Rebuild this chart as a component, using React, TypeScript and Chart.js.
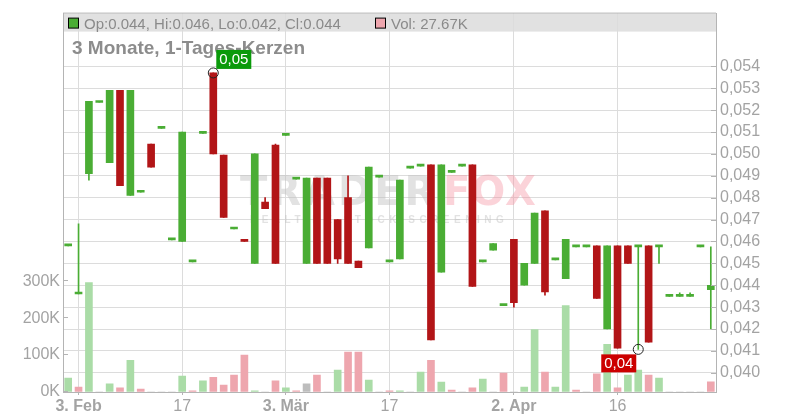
import React, { useEffect, useRef } from 'react';
import { Chart, registerables } from 'chart.js';

Chart.register(...registerables);

// ---- data (daily candles, index 0 = 31 Jan) ----
const openP = [
  0.0458, 0.0436, 0.0491, 0.05235, 0.0496, 0.0529, 0.0481, 0.04825, 0.05045, 0.05117,
  0.04607, 0.0460, 0.04507, 0.05094, 0.0537, 0.04995, 0.04657, 0.0461, 0.0450, 0.0478,
  0.0504, 0.05085, 0.04885, 0.0450, 0.0489, 0.0489, 0.0470, 0.0480, 0.0451, 0.0457,
  0.04894, 0.04507, 0.0452, 0.04935, 0.04944, 0.0495, 0.0446, 0.04916, 0.04944, 0.0495,
  0.04507, 0.0456, 0.04307, 0.0461, 0.0440, 0.0450, 0.0474, 0.04516, 0.0443, 0.04575,
  0.04575, 0.0458, 0.0420, 0.0458, 0.0458, 0.04575, 0.0458, 0.04575, 0.04349, 0.04349,
  0.04349, 0.04575, 0.0438,
];
const highP = [
  0.0458, 0.0468, 0.0524, 0.05235, 0.0529, 0.0529, 0.0529, 0.04825, 0.05045, 0.05117,
  0.04607, 0.0510, 0.04507, 0.05094, 0.0537, 0.04995, 0.04657, 0.0461, 0.0500, 0.0480,
  0.05045, 0.05085, 0.04885, 0.0489, 0.0489, 0.0489, 0.0470, 0.0490, 0.0451, 0.0494,
  0.04894, 0.04507, 0.0488, 0.04935, 0.04944, 0.0495, 0.0495, 0.04916, 0.04944, 0.0495,
  0.04507, 0.0459, 0.04307, 0.0461, 0.0450, 0.0473, 0.0474, 0.04516, 0.0461, 0.04575,
  0.04575, 0.0458, 0.0458, 0.0458, 0.0458, 0.04575, 0.0458, 0.04575, 0.04349, 0.04365,
  0.04365, 0.04575, 0.04575,
];
const lowP = [
  0.0458, 0.0436, 0.0488, 0.05235, 0.0496, 0.04855, 0.0481, 0.04825, 0.0494, 0.05117,
  0.04607, 0.0460, 0.04507, 0.05094, 0.0500, 0.0471, 0.04657, 0.0460, 0.0450, 0.0475,
  0.0450, 0.05085, 0.04885, 0.0450, 0.0450, 0.0450, 0.0450, 0.0450, 0.0448, 0.0457,
  0.04894, 0.04507, 0.0452, 0.04935, 0.04944, 0.0415, 0.0446, 0.04916, 0.04944, 0.04395,
  0.04507, 0.0456, 0.04307, 0.0430, 0.0440, 0.0450, 0.04355, 0.04516, 0.0443, 0.04575,
  0.04575, 0.0434, 0.0420, 0.04112, 0.0450, 0.04107, 0.0414, 0.0450, 0.04349, 0.04349,
  0.04349, 0.04575, 0.0420,
];
const closeP = [
  0.0458, 0.0436, 0.0524, 0.05235, 0.0529, 0.04855, 0.0529, 0.04825, 0.0494, 0.05117,
  0.04607, 0.0510, 0.04507, 0.05094, 0.0500, 0.0471, 0.04657, 0.0460, 0.0500, 0.0475,
  0.0450, 0.05085, 0.04885, 0.0489, 0.0450, 0.0450, 0.0452, 0.0450, 0.0448, 0.0494,
  0.04894, 0.04507, 0.0488, 0.04935, 0.04944, 0.0415, 0.0495, 0.04916, 0.04944, 0.04395,
  0.04507, 0.0459, 0.04307, 0.0432, 0.0450, 0.0473, 0.0437, 0.04516, 0.0461, 0.04575,
  0.04575, 0.0434, 0.0458, 0.04112, 0.0450, 0.04575, 0.0414, 0.04575, 0.04349, 0.04349,
  0.04349, 0.04575, 0.0440,
];
// volume in thousands
const volumeK = [
  38, 13, 296, 0, 22, 11, 86, 8, 0, 0,
  0, 43, 3, 30, 40, 19, 46, 100, 3, 0,
  30, 11, 3, 22, 46, 0, 59, 108, 108, 32,
  0, 3, 3, 0, 54, 86, 27, 5, 0, 11,
  35, 0, 51, 0, 13, 169, 54, 13, 234, 5,
  0, 49, 129, 11, 46, 59, 46, 38, 0, 0,
  0, 0, 27.67,
];
// 1 = up vs previous close, -1 = down, 0 = unchanged
const volDir = [
  1, -1, 1, 0, 1, -1, 1, -1, 0, 0,
  0, 1, -1, 1, -1, -1, -1, -1, 1, 0,
  -1, 1, -1, 0, -1, 0, 1, -1, -1, 1,
  0, -1, 1, 0, 1, -1, 1, -1, 0, -1,
  1, 0, -1, 0, 1, 1, -1, 1, 1, -1,
  0, -1, 1, -1, 1, 1, -1, 1, 0, 0,
  0, 0, -1,
];
const xTickIdx = [1, 11, 21, 31, 43, 53];
const xTickLabels = ['3. Feb', '17', '3. Mär', '17', '2. Apr', '16'];
const priceTicks = [0.040, 0.041, 0.042, 0.043, 0.044, 0.045, 0.046, 0.047, 0.048, 0.049, 0.050, 0.051, 0.052, 0.053, 0.054];
const volTicks = [0, 100000, 200000, 300000];
const legendText = 'Op:0.044, Hi:0.046, Lo:0.042, Cl:0.044';
const volLegendText = 'Vol: 27.67K';
const titleText = '3 Monate, 1-Tages-Kerzen';

const FONT = '"Liberation Sans", Arial, sans-serif';
const GREEN = '#4aad34';
const RED = '#b21517';
const VOL_UP = '#aadca7';
const VOL_DOWN = '#eea6ae';
const VOL_FLAT = '#bdbdbd';
const GRID = '#dcdcdc';
const AXIS = '#b4b4b4';
const TICK_TEXT = '#a3a3a3';

const decorPlugin = {
  id: 'decor',
  beforeDraw(chart: any) {
    const { ctx, chartArea: a } = chart;
    ctx.save();
    ctx.fillStyle = '#e1e1e1';
    ctx.fillRect(a.left, a.top, a.right - a.left, 18);
    ctx.restore();
  },
  beforeDatasetsDraw(chart: any) {
    const { ctx } = chart;
    ctx.save();
    ctx.textBaseline = 'alphabetic';
    ctx.textAlign = 'left';
    ctx.font = `bold 40px "DejaVu Sans", ${FONT}`;
    (ctx as any).letterSpacing = '3px';
    ctx.fillStyle = 'rgba(190,190,190,0.45)';
    ctx.fillText('TRADER', 240, 205);
    (ctx as any).letterSpacing = '1px';
    ctx.fillStyle = 'rgba(245,140,155,0.38)';
    ctx.fillText('FOX', 443, 205);
    ctx.font = `bold 10px ${FONT}`;
    (ctx as any).letterSpacing = '4.5px';
    ctx.fillStyle = 'rgba(190,190,190,0.45)';
    ctx.fillText('REALTIME STOCK SCREENING', 250, 223);
    ctx.restore();
  },
  afterDraw(chart: any) {
    const { ctx, chartArea: a, scales } = chart;
    ctx.save();
    // top frame line
    ctx.strokeStyle = AXIS;
    ctx.lineWidth = 1;
    ctx.beginPath();
    ctx.moveTo(a.left, a.top - 0.5);
    ctx.lineTo(a.right, a.top - 0.5);
    ctx.stroke();
    // inward tick marks
    const yp = scales.yPrice;
    ctx.beginPath();
    for (const t of yp.ticks) {
      const y = Math.round(yp.getPixelForValue(t.value)) + 0.5;
      ctx.moveTo(a.right - 5, y);
      ctx.lineTo(a.right, y);
    }
    const yv = scales.yVol;
    for (const t of yv.ticks) {
      const y = Math.round(yv.getPixelForValue(t.value)) - 0.5;
      ctx.moveTo(a.left, y);
      ctx.lineTo(a.left + 5, y);
    }
    ctx.stroke();

    // legend band content
    ctx.textBaseline = 'alphabetic';
    ctx.textAlign = 'left';
    ctx.lineWidth = 1;
    ctx.strokeStyle = '#000';
    ctx.fillStyle = GREEN;
    ctx.fillRect(a.left + 5.5, a.top + 4.5, 10, 10);
    ctx.strokeRect(a.left + 5.5, a.top + 4.5, 10, 10);
    ctx.fillStyle = VOL_DOWN;
    ctx.fillRect(375.5, a.top + 4.5, 10, 10);
    ctx.strokeRect(375.5, a.top + 4.5, 10, 10);
    ctx.font = `15px ${FONT}`;
    ctx.fillStyle = '#8a8a8a';
    ctx.fillText(legendText, a.left + 21, a.top + 15.5);
    ctx.fillText(volLegendText, 391, a.top + 15.5);

    // title
    ctx.font = `bold 19px ${FONT}`;
    ctx.fillStyle = '#8c8c8c';
    ctx.fillText(titleText, a.left + 9, 53.5);

    // high / low annotations
    const xs = scales.x;
    let hi = 0;
    let lo = 0;
    for (let i = 0; i < highP.length; i++) {
      if (highP[i] > highP[hi]) hi = i;
      if (lowP[i] < lowP[lo]) lo = i;
    }
    const hx = xs.getPixelForValue(hi);
    const hy = yp.getPixelForValue(highP[hi]);
    const lx = xs.getPixelForValue(lo);
    const ly = yp.getPixelForValue(lowP[lo]);
    ctx.font = `15px ${FONT}`;
    ctx.textAlign = 'center';
    ctx.textBaseline = 'middle';
    // high box
    ctx.fillStyle = '#0a9a0a';
    ctx.fillRect(hx + 3, hy - 23, 35, 19);
    ctx.fillStyle = '#ffffff';
    ctx.fillText(highP[hi].toFixed(2).replace('.', ','), hx + 3 + 17.5, hy - 13);
    // low box
    ctx.fillStyle = '#cc0000';
    ctx.fillRect(lx - 37, ly + 5, 35, 18);
    ctx.fillStyle = '#ffffff';
    ctx.fillText(lowP[lo].toFixed(2).replace('.', ','), lx - 37 + 17.5, ly + 14.5);
    // circles
    ctx.strokeStyle = '#222';
    ctx.lineWidth = 1;
    ctx.beginPath();
    ctx.arc(hx, hy, 5, 0, Math.PI * 2);
    ctx.stroke();
    ctx.beginPath();
    ctx.arc(lx, ly, 5, 0, Math.PI * 2);
    ctx.stroke();
    ctx.restore();
  },
};

export default function App() {
  const ref = useRef<HTMLCanvasElement | null>(null);

  useEffect(() => {
    document.body.style.margin = '0';
    const canvas = ref.current;
    if (!canvas) return;
    const idx = openP.map((_, i) => i);
    const candleColors = idx.map((i) => (closeP[i] >= openP[i] ? GREEN : RED));
    const volColors = idx.map((i) => (volDir[i] > 0 ? VOL_UP : volDir[i] < 0 ? VOL_DOWN : VOL_FLAT));

    const chart = new Chart(canvas, {
      type: 'bar',
      data: {
        datasets: [
          {
            label: 'body',
            data: idx.map((i) => ({ x: i, y: [openP[i], closeP[i]] })) as any,
            yAxisID: 'yPrice',
            backgroundColor: candleColors,
            borderWidth: 0,
            barThickness: 7,
            minBarLength: 2,
            grouped: false,
            order: 1,
          } as any,
          {
            label: 'wick',
            data: idx.map((i) => ({ x: i, y: [lowP[i], highP[i]] })) as any,
            yAxisID: 'yPrice',
            backgroundColor: candleColors,
            borderWidth: 0,
            barThickness: 1,
            grouped: false,
            order: 2,
          } as any,
          {
            label: 'vol',
            data: idx.map((i) => ({ x: i, y: volumeK[i] * 1000 })) as any,
            yAxisID: 'yVol',
            backgroundColor: volColors,
            borderWidth: 0,
            barThickness: 7,
            grouped: false,
            order: 3,
          } as any,
        ],
      },
      options: {
        animation: false,
        responsive: false,
        maintainAspectRatio: false,
        layout: { padding: { top: 12, left: 0, right: 0, bottom: 0 } },
        plugins: { legend: { display: false }, tooltip: { enabled: false } },
        scales: {
          x: {
            type: 'linear',
            min: -0.5,
            max: 62.5,
            offset: false,
            afterBuildTicks: (s: any) => {
              s.ticks = xTickIdx.map((v) => ({ value: v }));
            },
            afterFit: (s: any) => {
              s.height = 28;
            },
            grid: { color: GRID, offset: false, drawTicks: true, tickLength: 3, tickColor: AXIS },
            border: { display: true, color: AXIS },
            ticks: {
              autoSkip: false,
              maxRotation: 0,
              padding: 2,
              color: TICK_TEXT,
              font: (c: any) => ({
                family: FONT,
                size: 16,
                weight: c.tick && String(c.tick.label).includes('.') ? 'bold' : 'normal',
              }),
              callback: (v: any) => {
                const k = xTickIdx.indexOf(Number(v));
                return k >= 0 ? xTickLabels[k] : '';
              },
            },
          } as any,
          yPrice: {
            type: 'linear',
            position: 'right',
            min: 0.039122,
            max: 0.056411,
            afterBuildTicks: (s: any) => {
              s.ticks = priceTicks.map((v) => ({ value: v }));
            },
            afterFit: (s: any) => {
              s.width = 84;
            },
            grid: { color: GRID, drawTicks: false },
            border: { display: true, color: AXIS },
            ticks: {
              padding: 4,
              color: TICK_TEXT,
              font: { family: FONT, size: 16 },
              callback: (v: any) => Number(v).toFixed(3).replace('.', ','),
            },
          } as any,
          yVol: {
            type: 'linear',
            position: 'left',
            min: 0,
            max: 1024000,
            afterBuildTicks: (s: any) => {
              s.ticks = volTicks.map((v) => ({ value: v }));
            },
            afterFit: (s: any) => {
              s.width = 63;
            },
            grid: { drawOnChartArea: false, drawTicks: false },
            border: { display: true, color: AXIS },
            ticks: {
              padding: 3,
              color: TICK_TEXT,
              font: { family: FONT, size: 16 },
              callback: (v: any) => `${Math.round(Number(v) / 1000)}K`,
            },
          } as any,
        },
      },
      plugins: [decorPlugin],
    });

    return () => {
      chart.destroy();
    };
  }, []);

  return (
    <div style={{ width: 800, height: 420 }}>
      <canvas ref={ref} width={800} height={420} style={{ display: 'block' }} />
    </div>
  );
}
